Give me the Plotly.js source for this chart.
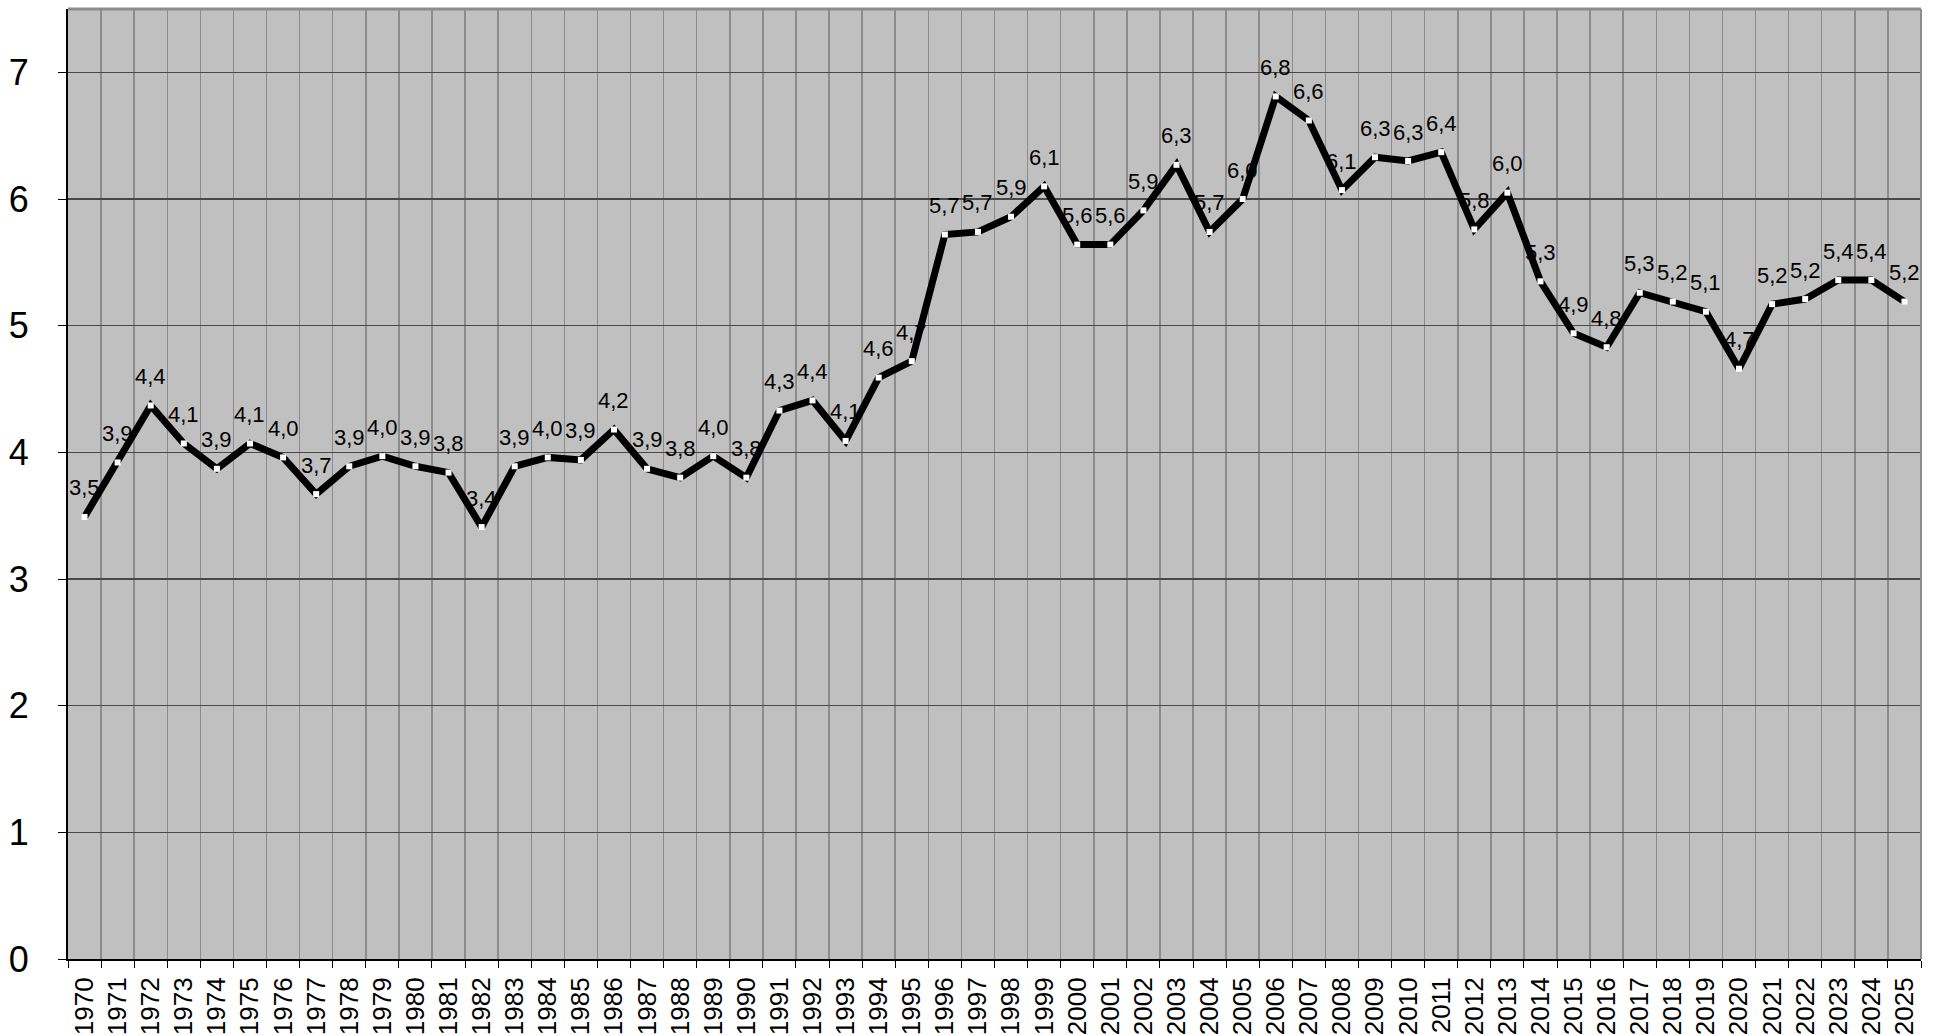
<!DOCTYPE html>
<html>
<head>
<meta charset="utf-8">
<script src="https://cdn.plot.ly/plotly-3.0.1.min.js"></script>
<style>
  html, body { margin: 0; padding: 0; background: #ffffff; }
  #chart { width: 1935px; height: 1035px; }
</style>
</head>
<body>
<div id="chart"></div>
<script>
// ---- data ----
var years = [
  1970, 1971, 1972, 1973, 1974, 1975, 1976, 1977, 1978, 1979,
  1980, 1981, 1982, 1983, 1984, 1985, 1986, 1987, 1988, 1989,
  1990, 1991, 1992, 1993, 1994, 1995, 1996, 1997, 1998, 1999,
  2000, 2001, 2002, 2003, 2004, 2005, 2006, 2007, 2008, 2009,
  2010, 2011, 2012, 2013, 2014, 2015, 2016, 2017, 2018, 2019,
  2020, 2021, 2022, 2023, 2024, 2025
];
var values = [
  3.49, 3.92, 4.37, 4.07, 3.87, 4.07, 3.96, 3.67, 3.89, 3.97,
  3.89, 3.84, 3.41, 3.89, 3.96, 3.94, 4.18, 3.87, 3.80, 3.97,
  3.80, 4.33, 4.41, 4.09, 4.59, 4.72, 5.72, 5.74, 5.86, 6.10,
  5.64, 5.64, 5.91, 6.27, 5.74, 6.00, 6.81, 6.62, 6.07, 6.33,
  6.30, 6.37, 5.76, 6.05, 5.35, 4.94, 4.83, 5.26, 5.19, 5.11,
  4.66, 5.17, 5.21, 5.36, 5.36, 5.19
];
var yTicks = [0, 1, 2, 3, 4, 5, 6, 7];

// ---- derived ----
var cats = years.map(String);
var labels = values.map(function (v) { return v.toFixed(1).replace('.', ','); });

var labelFont = { family: '"Liberation Sans Narrow", "Arial Narrow", "Liberation Sans", Arial, sans-serif', size: 22, color: '#000000' };

var annotations = cats.map(function (c, i) {
  return {
    x: i, y: values[i], xref: 'x', yref: 'y',
    text: labels[i], showarrow: false,
    yshift: 29, font: labelFont
  };
});

var trace = {
  type: 'scatter',
  mode: 'lines+markers',
  x: cats,
  y: values,
  line: { color: '#000000', width: 7 },
  marker: { symbol: 'square', size: 6, color: '#ffffff', line: { width: 0 } },
  hoverinfo: 'x+y'
};

var layout = {
  width: 1935,
  height: 1035,
  margin: { l: 68, r: 14, t: 9, b: 76, pad: 0 },
  paper_bgcolor: '#ffffff',
  plot_bgcolor: '#c0c0c0',
  showlegend: false,
  font: { family: '"Liberation Sans", Arial, sans-serif', color: '#000000' },
  xaxis: {
    type: 'category',
    categoryorder: 'array',
    categoryarray: cats,
    range: [-0.5, cats.length - 0.5],
    autorange: false,
    tickson: 'boundaries',
    ticks: 'outside',
    ticklen: 7,
    tickwidth: 1,
    tickcolor: '#000000',
    tickangle: -90,
    tickfont: { family: '"Liberation Sans", Arial, sans-serif', size: 26, color: '#000000' },
    ticklabelstandoff: 6,
    showgrid: true,
    gridcolor: '#8c8c8c',
    gridwidth: 1.5,
    showline: true,
    linecolor: '#000000',
    linewidth: 2,
    zeroline: false,
    fixedrange: true
  },
  yaxis: {
    range: [0, 7.5],
    autorange: false,
    tickmode: 'array',
    tickvals: yTicks,
    ticktext: yTicks.map(String),
    ticks: 'outside',
    ticklen: 8,
    tickwidth: 1,
    tickcolor: '#000000',
    tickfont: { family: '"Liberation Sans", Arial, sans-serif', size: 36, color: '#000000' },
    ticklabelstandoff: 22,
    showgrid: true,
    gridcolor: '#484848',
    gridwidth: 1.5,
    showline: true,
    linecolor: '#000000',
    linewidth: 2,
    zeroline: false,
    fixedrange: true
  },
  shapes: [
    { type: 'line', xref: 'paper', yref: 'paper', x0: 0, x1: 1, y0: 1, y1: 1,
      line: { color: '#8c8c8c', width: 3 } },
    { type: 'line', xref: 'paper', yref: 'paper', x0: 1, x1: 1, y0: 0, y1: 1,
      line: { color: '#8c8c8c', width: 2 } }
  ],
  annotations: annotations
};

Plotly.newPlot('chart', [trace], layout, { displayModeBar: false, staticPlot: true });
</script>
</body>
</html>
